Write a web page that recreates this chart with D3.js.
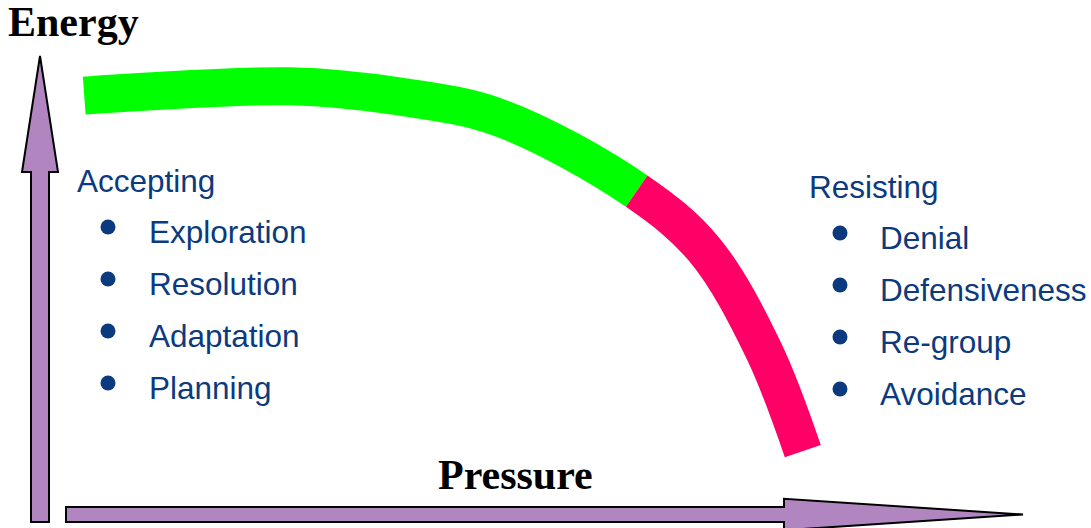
<!DOCTYPE html>
<html>
<head>
<meta charset="utf-8">
<script src="https://cdn.jsdelivr.net/npm/d3@7"></script>
<style>
  body { margin: 0; background: #fff; }
  svg { display: block; }
</style>
</head>
<body>
<div id="chart"></div>
<script>
// curve through the energy/pressure plane (pressure 0-100, energy 0-100)
const curvePressure = [4.5, 25.4, 36.6, 46.8, 60.7, 67.6, 73.6, 77.6];
const curveEnergy   = [91.5, 93.5, 91.3, 86.7, 71.0, 58.4, 36.9, 15.2];
// where the curve turns from accepting to resisting
const turnPressure = 60.7;

const acceptingTitle = "Accepting";
const acceptingItems = ["Exploration", "Resolution", "Adaptation", "Planning"];
const resistingTitle = "Resisting";
const resistingItems = ["Denial", "Defensiveness", "Re-group", "Avoidance"];

const W = 1091, H = 528;
const blue = "#0b3a7e", purple = "#b085c0";

const svg = d3.select("#chart").append("svg")
    .attr("width", W)
    .attr("height", H);

const x = d3.scaleLinear().domain([0, 100]).range([40, 1023]);
const y = d3.scaleLinear().domain([0, 100]).range([522, 56]);

// axes as block arrows
const [x0, x1] = x.range();
const [y0, y1] = y.range();

const vArrow = [
    [x0, y1], [x0 + 18, 172], [x0 + 9, 172], [x0 + 9, y0],
    [x0 - 9, y0], [x0 - 9, 172], [x0 - 18, 172]
];
const hy = 514.5;
const hArrow = [
    [66, hy - 7.5], [784, hy - 7.5], [784, hy - 15.7], [x1, hy],
    [784, hy + 15.7], [784, hy + 7.5], [66, hy + 7.5]
];

svg.selectAll("path.axis")
    .data([vArrow, hArrow])
    .join("path")
    .attr("class", "axis")
    .attr("d", d => d3.line()(d) + "Z")
    .attr("fill", purple)
    .attr("stroke", "#000")
    .attr("stroke-width", 2)
    .attr("stroke-linejoin", "miter");

// the curve, split into a green and a pink part
const pts = curvePressure.map((p, i) => [p, curveEnergy[i]]);
const line = d3.line()
    .x(d => x(d[0]))
    .y(d => y(d[1]))
    .curve(d3.curveCatmullRom.alpha(0.5));

const base = svg.append("path").attr("d", line(pts)).attr("fill", "none");
const node = base.node();
const total = node.getTotalLength();
// find the length along the path where pressure hits the turn
let lo = 0, hi = total;
const xt = x(turnPressure);
for (let i = 0; i < 40; i++) {
    const mid = (lo + hi) / 2;
    if (node.getPointAtLength(mid).x < xt) lo = mid; else hi = mid;
}
const Lj = lo;
base.remove();

svg.append("path")
    .attr("d", line(pts))
    .attr("fill", "none")
    .attr("stroke", "#00ff00")
    .attr("stroke-width", 38)
    .attr("stroke-dasharray", `${Lj},${total}`);

svg.append("path")
    .attr("d", line(pts))
    .attr("fill", "none")
    .attr("stroke", "#ff0066")
    .attr("stroke-width", 38)
    .attr("stroke-dasharray", `0,${Lj},${total},0`);

// axis titles
svg.append("text")
    .attr("x", 8).attr("y", 36)
    .attr("font-family", "Liberation Serif, Times New Roman, serif")
    .attr("font-weight", "bold")
    .attr("font-size", 42)
    .text("Energy");

svg.append("text")
    .attr("x", 438).attr("y", 489)
    .attr("font-family", "Liberation Serif, Times New Roman, serif")
    .attr("font-weight", "bold")
    .attr("font-size", 42)
    .text("Pressure");

// bullet lists
function list(title, items, tx, ty, bx, ix) {
    const g = svg.append("g")
        .attr("font-family", "Liberation Sans, Arial, sans-serif")
        .attr("font-size", 31.5)
        .attr("fill", blue);
    g.append("text").attr("x", tx).attr("y", ty).text(title);
    g.selectAll("circle")
        .data(items)
        .join("circle")
        .attr("cx", bx)
        .attr("cy", (d, i) => ty + 35 + i * 52)
        .attr("r", 7.5);
    g.selectAll("text.item")
        .data(items)
        .join("text")
        .attr("class", "item")
        .attr("x", ix)
        .attr("y", (d, i) => ty + 51 + i * 52)
        .text(d => d);
}

list(acceptingTitle, acceptingItems, 77, 192, 108, 149);
list(resistingTitle, resistingItems, 809, 198, 840, 880);
</script>
</body>
</html>
